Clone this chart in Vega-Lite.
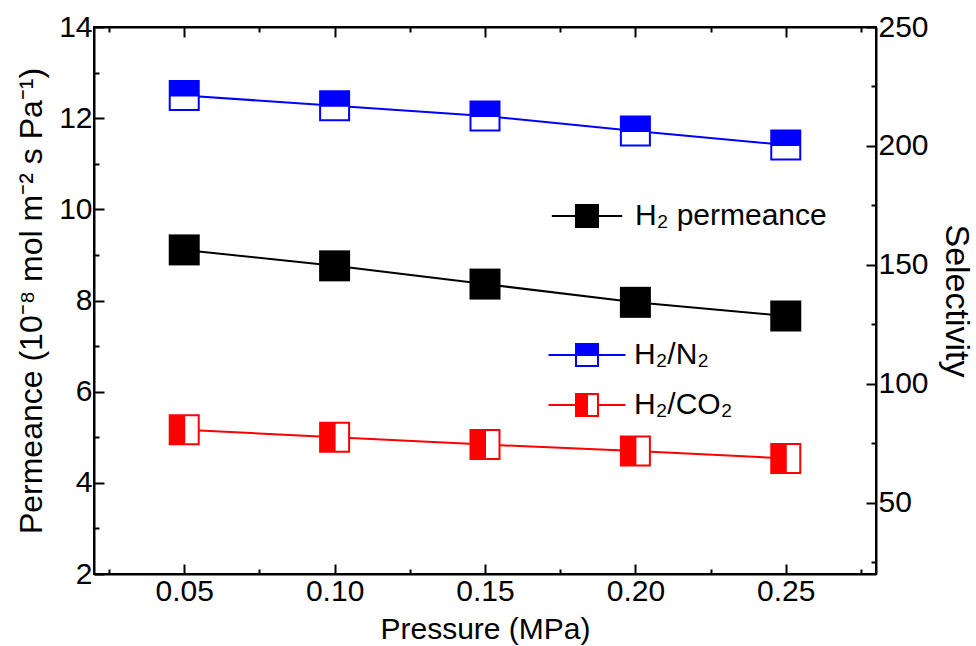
{
  "$schema": "https://vega.github.io/schema/vega-lite/v6.json",
  "width": 782,
  "height": 547,
  "autosize": {"type": "none"},
  "padding": {"left": 94, "top": 27, "right": 100, "bottom": 72},
  "background": "white",
  "config": {
    "view": {"stroke": "black", "strokeWidth": 2},
    "font": "Liberation Sans",
    "axis": {
      "grid": false,
      "domainColor": "black",
      "domainWidth": 2,
      "tickColor": "black",
      "tickWidth": 2,
      "labelColor": "black",
      "titleColor": "black",
      "labelFont": "Liberation Sans",
      "titleFont": "Liberation Sans",
      "labelFontSize": 30,
      "titleFontSize": 30,
      "titleFontWeight": "normal"
    },
    "legend": {"labelFont": "Liberation Sans", "labelFontSize": 30, "labelColor": "black", "labelLimit": 500}
  },
  "datasets": {
    "perm": [
      {"pressure": 0.05, "permeance": 9.11},
      {"pressure": 0.10, "permeance": 8.76},
      {"pressure": 0.15, "permeance": 8.36},
      {"pressure": 0.20, "permeance": 7.96},
      {"pressure": 0.25, "permeance": 7.66}
    ],
    "sel": [
      {"pressure": 0.05, "series": "H₂/N₂", "selectivity": 221.2},
      {"pressure": 0.10, "series": "H₂/N₂", "selectivity": 216.9},
      {"pressure": 0.15, "series": "H₂/N₂", "selectivity": 212.6},
      {"pressure": 0.20, "series": "H₂/N₂", "selectivity": 206.3},
      {"pressure": 0.25, "series": "H₂/N₂", "selectivity": 200.4},
      {"pressure": 0.05, "series": "H₂/CO₂", "selectivity": 80.7},
      {"pressure": 0.10, "series": "H₂/CO₂", "selectivity": 77.5},
      {"pressure": 0.15, "series": "H₂/CO₂", "selectivity": 74.4},
      {"pressure": 0.20, "series": "H₂/CO₂", "selectivity": 71.7},
      {"pressure": 0.25, "series": "H₂/CO₂", "selectivity": 68.6}
    ]
  },
  "layer": [
    {
      "data": {"name": "perm"},
      "encoding": {
        "x": {
          "field": "pressure",
          "type": "quantitative",
          "scale": {"domain": [0.02, 0.28], "nice": false, "zero": false},
          "axis": {
            "orient": "bottom",
            "values": [0.025, 0.05, 0.075, 0.1, 0.125, 0.15, 0.175, 0.2, 0.225, 0.25, 0.275],
            "tickSize": {"condition": {"test": "abs(datum.value*20 - round(datum.value*20)) > 0.1", "value": -5}, "value": -10},
            "labelExpr": "abs(datum.value*20 - round(datum.value*20)) > 0.1 ? '' : format(datum.value, '.2f')",
            "labelPadding": 12,
            "title": "Pressure (MPa)",
            "titlePadding": 8
          }
        },
        "y": {
          "field": "permeance",
          "type": "quantitative",
          "scale": {"domain": [2, 14], "nice": false, "zero": false},
          "axis": {
            "orient": "left",
            "values": [2, 3, 4, 5, 6, 7, 8, 9, 10, 11, 12, 13, 14],
            "tickSize": {"condition": {"test": "datum.value % 2 != 0", "value": -5}, "value": -10},
            "labelExpr": "datum.value % 2 != 0 ? '' : datum.label",
            "labelPadding": 12,
            "title": "Permeance (10⁻⁸ mol m⁻² s Pa⁻¹)",
            "titleFontSize": 32,
            "titlePadding": 10
          }
        }
      },
      "layer": [
        {"mark": {"type": "line", "color": "black", "strokeWidth": 2}},
        {"mark": {"type": "point", "shape": "square", "filled": true, "color": "black", "size": 961, "opacity": 1}}
      ]
    },
    {
      "data": {"name": "sel"},
      "encoding": {
        "x": {
          "field": "pressure",
          "type": "quantitative",
          "scale": {"domain": [0.02, 0.28], "nice": false, "zero": false},
          "axis": {
            "orient": "top",
            "values": [0.025, 0.05, 0.075, 0.1, 0.125, 0.15, 0.175, 0.2, 0.225, 0.25, 0.275],
            "tickSize": {"condition": {"test": "abs(datum.value*20 - round(datum.value*20)) > 0.1", "value": -5}, "value": -10},
            "labels": false,
            "title": null
          }
        },
        "y": {
          "field": "selectivity",
          "type": "quantitative",
          "scale": {"domain": [20, 250], "nice": false, "zero": false},
          "axis": {
            "orient": "right",
            "values": [25, 50, 75, 100, 125, 150, 175, 200, 225, 250],
            "tickSize": {"condition": {"test": "datum.value % 50 != 0", "value": -5}, "value": -10},
            "labelExpr": "datum.value % 50 != 0 ? '' : datum.label",
            "labelPadding": 12,
            "title": "Selectivity",
            "titleFontSize": 34,
            "titlePadding": 10
          }
        }
      },
      "layer": [
        {
          "mark": {"type": "line", "strokeWidth": 2},
          "encoding": {
            "stroke": {"field": "series", "type": "nominal", "scale": {"domain": ["H₂/N₂", "H₂/CO₂"], "range": ["#0000ff", "#ff0000"]}, "legend": null}
          }
        },
        {
          "mark": {"type": "point", "shape": "square", "filled": true, "fill": "white", "strokeOpacity": 0, "size": 841, "opacity": 1}
        },
        {
          "mark": {"type": "point", "filled": true, "strokeWidth": 2, "size": 841, "opacity": 1},
          "encoding": {
            "shape": {"field": "series", "type": "nominal", "scale": {"domain": ["H₂/N₂", "H₂/CO₂"], "range": ["M-1,-1H1V1H-1ZM-1,0V1H1V0Z", "M-1,-1H1V1H-1ZM0,-1V1H1V-1Z"]}, "legend": null},
            "fill": {"field": "series", "type": "nominal", "scale": {"domain": ["H₂/N₂", "H₂/CO₂"], "range": ["#0000ff", "#ff0000"]}, "legend": null},
            "stroke": {"field": "series", "type": "nominal", "scale": {"domain": ["H₂/N₂", "H₂/CO₂"], "range": ["#0000ff", "#ff0000"]}, "legend": null}
          }
        }
      ]
    },
    {
      "data": {"name": "perm"},
      "transform": [{"filter": "false"}],
      "mark": {"type": "point", "filled": true, "color": "black", "stroke": "black", "strokeWidth": 2, "opacity": 1},
      "encoding": {
        "shape": {
          "datum": "H₂ permeance",
          "type": "nominal",
          "scale": {"domain": ["H₂ permeance"], "range": ["M-3.2,0H-1M1,0H3.2M-1,-1H1V1H-1Z"]},
          "legend": {
            "orient": "none",
            "legendX": 478,
            "legendY": 174,
            "title": null,
            "padding": 0,
            "labelOffset": 33,
            "symbolSize": 484,
            "symbolStrokeWidth": 2,
            "symbolOpacity": 1
          }
        }
      }
    },
    {
      "data": {"name": "sel"},
      "transform": [{"filter": "false"}],
      "mark": {"type": "point", "filled": true, "strokeWidth": 2, "opacity": 1},
      "encoding": {
        "shape": {
          "field": "series",
          "type": "nominal",
          "scale": {"domain": ["H₂/N₂", "H₂/CO₂"], "range": ["M-3.5,0H-1M1,0H3.5M-1,-1H1V1H-1ZM-1,0V1H1V0Z", "M-3.5,0H-1M1,0H3.5M-1,-1H1V1H-1ZM0,-1V1H1V-1Z"]},
          "legend": {
            "orient": "none",
            "legendX": 478,
            "legendY": 313,
            "title": null,
            "padding": 0,
            "rowPadding": 20,
            "labelOffset": 32,
            "symbolSize": 484,
            "symbolStrokeWidth": 2,
            "symbolOpacity": 1
          }
        },
        "fill": {
          "field": "series",
          "type": "nominal",
          "scale": {"domain": ["H₂/N₂", "H₂/CO₂"], "range": ["#0000ff", "#ff0000"]},
          "legend": {
            "orient": "none",
            "legendX": 478,
            "legendY": 313,
            "title": null,
            "padding": 0,
            "rowPadding": 20,
            "labelOffset": 32,
            "symbolSize": 484,
            "symbolStrokeWidth": 2,
            "symbolOpacity": 1
          }
        },
        "stroke": {
          "field": "series",
          "type": "nominal",
          "scale": {"domain": ["H₂/N₂", "H₂/CO₂"], "range": ["#0000ff", "#ff0000"]},
          "legend": {
            "orient": "none",
            "legendX": 478,
            "legendY": 313,
            "title": null,
            "padding": 0,
            "rowPadding": 20,
            "labelOffset": 32,
            "symbolSize": 484,
            "symbolStrokeWidth": 2,
            "symbolOpacity": 1
          }
        }
      }
    }
  ],
  "resolve": {
    "scale": {"y": "independent", "shape": "independent", "fill": "independent", "stroke": "independent"},
    "axis": {"x": "independent", "y": "independent"}
  }
}
